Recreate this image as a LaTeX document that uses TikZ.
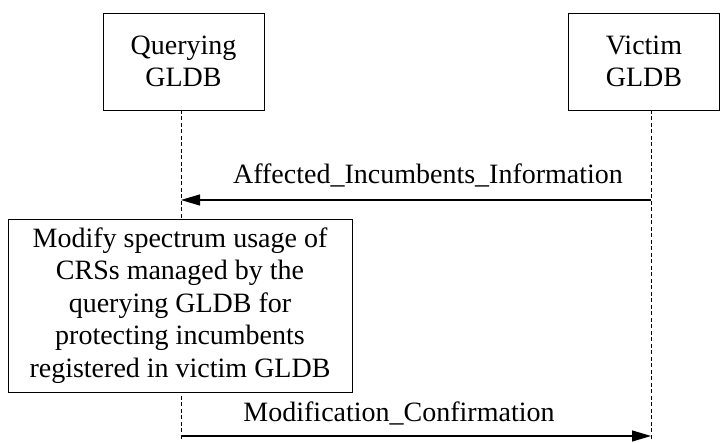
\documentclass[tikz,border=0pt]{standalone}
\usepackage{fontspec}
\setmainfont{Liberation Serif}
\usetikzlibrary{arrows.meta}
\begin{document}
\begin{tikzpicture}[x=1pt,y=-1pt,
  every node/.style={font=\fontsize{28}{32.5}\selectfont},
  actor/.style={draw,line width=0.9pt,inner sep=0pt,align=center},
  life/.style={line width=0.7pt,dash pattern=on 4pt off 2.5pt},
  msg/.style={line width=1.2pt,-{Triangle[length=19pt,width=11pt]}},
  lbl/.style={inner sep=0pt}]
\useasboundingbox (0,0) rectangle (721,443);
\node[actor,minimum width=161,minimum height=97] (q) at (183.5,61.5) {Querying\\GLDB};
\node[actor,minimum width=151,minimum height=97] (v) at (644,61.5) {Victim\\GLDB};
\coordinate (qtop) at (181,110);
\coordinate (vtop) at (651,110);
\coordinate (qbot) at (181,441);
\coordinate (vbot) at (651,441);
\draw[life] (qtop) -- (qbot);
\draw[life] (vtop) -- (vbot);
\coordinate (a1s) at (651,200);
\coordinate (a1e) at (181,200);
\draw[msg] (a1s) -- (a1e);
\node[lbl] (l1) at (428,175) {Affected\_Incumbents\_Information};
\node[actor,fill=white,minimum width=344,minimum height=173] (m) at (180,305.5)
  {Modify spectrum usage of\\CRSs managed by the\\querying GLDB for\\protecting incumbents\\registered in victim GLDB};
\coordinate (a2s) at (181,436);
\coordinate (a2e) at (651,436);
\draw[msg] (a2s) -- (a2e);
\node[lbl] (l2) at (399,413) {Modification\_Confirmation};
\end{tikzpicture}
\end{document}
